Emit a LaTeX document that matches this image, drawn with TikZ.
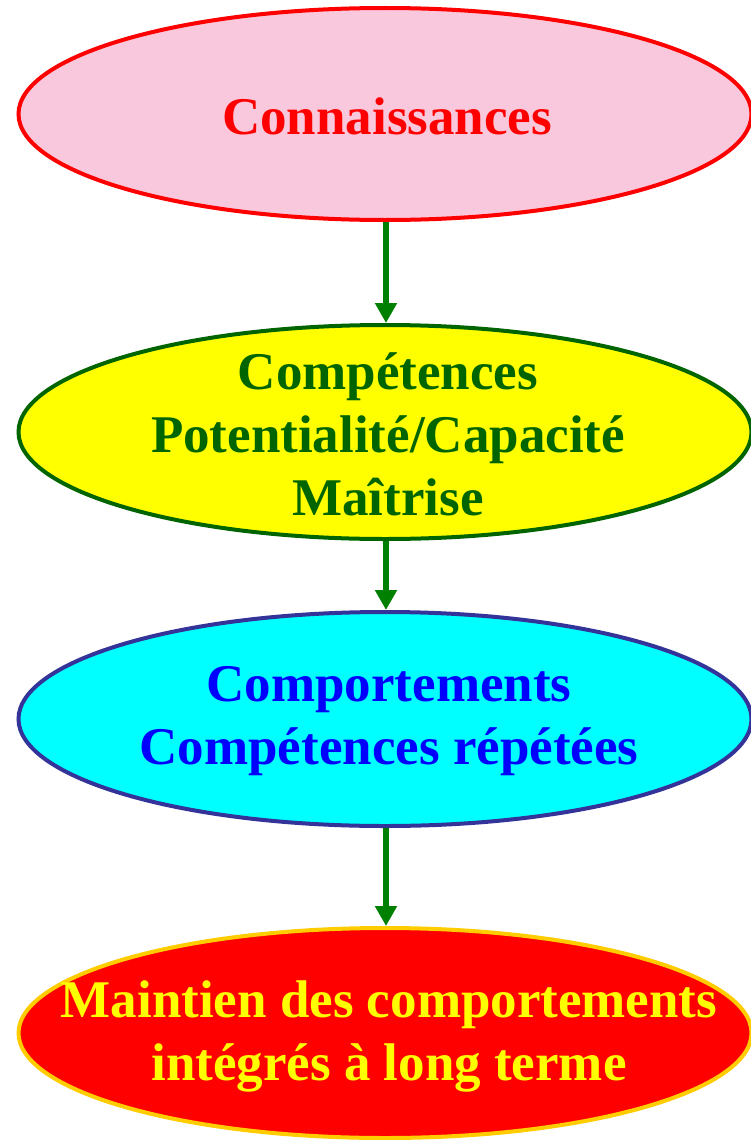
\documentclass[tikz,border=0pt]{standalone}
\usepackage{fontspec}
\setmainfont{Liberation Serif}
\usetikzlibrary{shapes.geometric,arrows.meta}
\definecolor{pinkfill}{RGB}{250,200,220}
\definecolor{dkgreen}{RGB}{0,100,0}
\definecolor{arrgreen}{RGB}{0,128,0}
\definecolor{navyline}{RGB}{51,51,153}
\definecolor{goldline}{RGB}{255,204,0}
\definecolor{pureyellow}{RGB}{255,255,0}
\definecolor{purecyan}{RGB}{0,255,255}
\definecolor{purered}{RGB}{255,0,0}
\definecolor{pureblue}{RGB}{0,0,255}
\tikzset{
  bubble/.style={ellipse, line width=4pt, inner sep=0pt, minimum width=733pt},
  label text/.style={align=center, inner sep=0pt, font=\bfseries\fontsize{53}{63}\selectfont},
  flow/.style={arrgreen, line width=6pt, -{Triangle[width=21pt,length=20pt]}}
}
\begin{document}
\begin{tikzpicture}[x=1pt,y=-1pt]
\useasboundingbox (0,0) rectangle (751,1140);
\clip (0,0) rectangle (751,1140);
\node[bubble, draw=purered, fill=pinkfill, minimum height=212pt] (e1) at (385,114) {};
\node[bubble, draw=dkgreen, fill=pureyellow, minimum height=214pt] (e2) at (385,432) {};
\node[bubble, draw=navyline, fill=purecyan, minimum height=214pt] (e3) at (385,719) {};
\node[bubble, draw=goldline, fill=purered, minimum height=210pt] (e4) at (385,1033) {};
\node[label text, text=purered] (t1) at (387,116) {Connaissances};
\node[label text, text=dkgreen] (t2) at (388,434) {Compétences\\Potentialité/Capacité\\Maîtrise};
\node[label text, text=pureblue] (t3) at (389,721) {Comportements\\Compétences répétées};
\node[label text, text=pureyellow] (t4) at (389,1036) {Maintien des comportements\\intégrés à long terme};
\draw[flow] ([xshift=1pt]e1.south) -- ([xshift=1pt]e2.north);
\draw[flow] ([xshift=1pt]e2.south) -- ([xshift=1pt]e3.north);
\draw[flow] ([xshift=1pt]e3.south) -- ([xshift=1pt]e4.north);
\end{tikzpicture}
\end{document}
